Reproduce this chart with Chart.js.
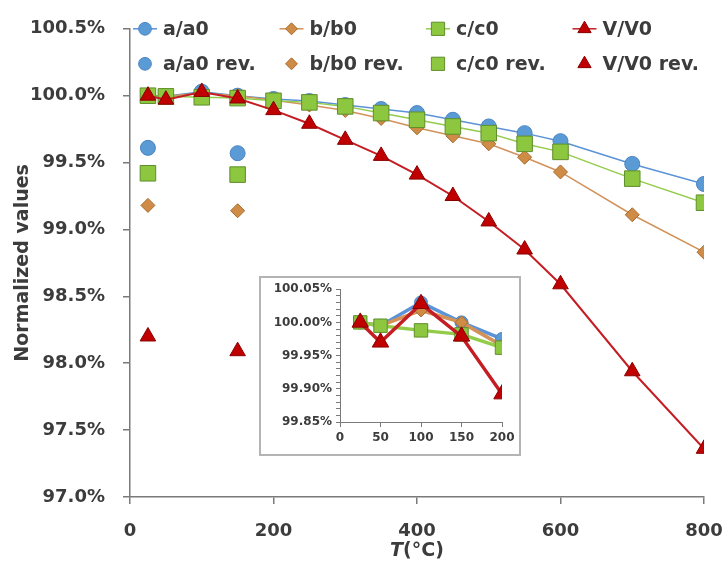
<!DOCTYPE html>
<html>
<head>
<meta charset="utf-8">
<script src="https://cdn.jsdelivr.net/npm/chart.js@4.4.1/dist/chart.umd.min.js"></script>
<style>
  html, body { margin: 0; padding: 0; background: #ffffff; }
  #wrap { position: relative; width: 726px; height: 569px; }
  #main { position: absolute; left: 0; top: 0; }
  #insetBox { position: absolute; left: 259px; top: 276px; width: 258px; height: 176px;
              border: 2px solid #b4b4b4; background: #ffffff; }
  #inset { display: block; }
</style>
</head>
<body>
<div id="wrap">
  <canvas id="main" width="726" height="569"></canvas>
  <div id="insetBox"><canvas id="inset" width="258" height="176"></canvas></div>
</div>
<script>
// ---------------- data ----------------
const temps = [25, 50, 100, 150, 200, 250, 300, 350, 400, 450, 500, 550, 600, 700, 800];
const aNorm = [100.00, 99.995, 100.03, 100.00, 99.975, 99.96, 99.93, 99.90, 99.87, 99.82, 99.77, 99.72, 99.66, 99.49, 99.34];
const bNorm = [100.00, 99.995, 100.018, 100.00, 99.965, 99.93, 99.89, 99.83, 99.76, 99.70, 99.64, 99.54, 99.43, 99.11, 98.83];
const cNorm = [100.00, 99.995, 99.988, 99.982, 99.962, 99.95, 99.92, 99.87, 99.82, 99.77, 99.72, 99.64, 99.58, 99.38, 99.20];
const vNorm = [100.00, 99.97, 100.028, 99.979, 99.892, 99.79, 99.67, 99.55, 99.41, 99.25, 99.06, 98.85, 98.59, 97.94, 97.36];

const revTemps = [25, 150];
const aRev = [99.61, 99.57];
const bRev = [99.18, 99.14];
const cRev = [99.42, 99.41];
const vRev = [98.20, 98.09];

const seriesNames = ['a/a0', 'b/b0', 'c/c0', 'V/V0'];
const revNames = ['a/a0 rev.', 'b/b0 rev.', 'c/c0 rev.', 'V/V0 rev.'];

const mainXTicks = [0, 200, 400, 600, 800];
const mainYRange = [97.0, 100.5];
const insetXMax = 200;
const insetYRange = [99.85, 100.05];

// ---------------- styles ----------------
const FONT = 'DejaVu Sans';
const TEXT = '#3c3c3c';
const styles = [
  { line: '#5b93d6', fill: '#5b9bd5', border: '#4a84c4', style: 'circle', r: 7.5, ir: 6.5 },
  { line: '#d2925a', fill: '#cf8c46', border: '#a86a2c', style: 'rectRot', r: 7, ir: 6.5 },
  { line: '#92cc4a', fill: '#8dc63f', border: '#5f8f2c', style: 'rect', r: 11, ir: 9.5 },
  { line: '#c41e24', fill: '#c00000', border: '#8a0000', style: 'triangle', r: 9, ir: 9.5 }
];

const pts = (xs, ys) => xs.map((x, i) => ({ x: x, y: ys[i] }));
const mainSeries = [aNorm, bNorm, cNorm, vNorm];
const revSeries = [aRev, bRev, cRev, vRev];

const mainDatasets = [];
mainSeries.forEach((s, k) => {
  const st = styles[k];
  mainDatasets.push({
    label: seriesNames[k], data: pts(temps, s), showLine: true,
    borderColor: st.line, borderWidth: k === 3 ? 2 : 1.5,
    pointStyle: st.style, pointRadius: st.r,
    pointBackgroundColor: st.fill, pointBorderColor: st.border, pointBorderWidth: 1,
    order: 10 - k
  });
});
revSeries.forEach((s, k) => {
  const st = styles[k];
  mainDatasets.push({
    label: revNames[k], data: pts(revTemps, s), showLine: false,
    borderColor: st.line,
    pointStyle: st.style, pointRadius: st.r,
    pointBackgroundColor: st.fill, pointBorderColor: st.border, pointBorderWidth: 1,
    order: 20 - k
  });
});

// custom legend laid over the plot area (2 rows x 4 columns)
const legendPlugin = {
  id: 'gridLegend',
  afterDraw(chart) {
    const ctx = chart.ctx, ca = chart.chartArea;
    ctx.save();
    ctx.font = 'bold 19px "' + FONT + '"';
    ctx.textBaseline = 'middle';
    ctx.fillStyle = TEXT;
    for (let row = 0; row < 2; row++) {
      for (let k = 0; k < 4; k++) {
        const st = styles[k];
        const cx = ca.left + 15 + k * 146.5;
        const cy = ca.top + row * 35;
        if (row === 0) {
          ctx.strokeStyle = st.line; ctx.lineWidth = 1.5;
          ctx.beginPath(); ctx.moveTo(cx - 12, cy); ctx.lineTo(cx + 12, cy); ctx.stroke();
        }
        ctx.fillStyle = st.fill; ctx.strokeStyle = st.border; ctx.lineWidth = 1;
        Chart.helpers.drawPoint(ctx, { pointStyle: st.style, radius: st.r * 0.85, rotation: 0, borderWidth: 1 }, cx, cy);
        ctx.fillStyle = TEXT;
        ctx.fillText(row === 0 ? seriesNames[k] : revNames[k], cx + 18, cy + 1);
      }
    }
    // x-axis title with italic T
    const mid = (ca.left + ca.right) / 2;
    const y = 551;
    ctx.font = 'italic bold 19px "' + FONT + '"';
    const wT = ctx.measureText('T').width;
    ctx.font = 'bold 19px "' + FONT + '"';
    const wR = ctx.measureText('(°C)').width;
    const x0 = mid - (wT + wR) / 2;
    ctx.textAlign = 'left';
    ctx.font = 'italic bold 19px "' + FONT + '"';
    ctx.fillText('T', x0, y);
    ctx.font = 'bold 19px "' + FONT + '"';
    ctx.fillText('(°C)', x0 + wT, y);
    ctx.restore();
  }
};

Chart.defaults.font.family = FONT;
Chart.defaults.font.weight = 'bold';
Chart.defaults.color = TEXT;

new Chart(document.getElementById('main'), {
  type: 'scatter',
  data: { datasets: mainDatasets },
  options: {
    responsive: false, animation: false, events: [],
    layout: { padding: { left: 0, top: 28, right: 22, bottom: 0 } },
    plugins: { legend: { display: false }, tooltip: { enabled: false } },
    scales: {
      x: {
        type: 'linear', min: mainXTicks[0], max: mainXTicks[mainXTicks.length - 1],
        afterBuildTicks: s => { s.ticks = mainXTicks.map(v => ({ value: v })); },
        afterFit: s => { s.height = 72; s.paddingLeft = 0; s.paddingRight = 0; },
        grid: { drawOnChartArea: false, drawTicks: true, tickLength: 7, color: '#7a7a7a', lineWidth: 1.5 },
        border: { display: true, color: '#7a7a7a', width: 1.5 },
        ticks: { font: { size: 18, weight: 'bold' }, color: TEXT, padding: 17, maxRotation: 0 }
      },
      y: {
        min: mainYRange[0], max: mainYRange[1],
        afterFit: s => { s.width = 130; },
        grid: { drawOnChartArea: false, drawTicks: true, tickLength: 7, color: '#7a7a7a', lineWidth: 1.5 },
        border: { display: true, color: '#7a7a7a', width: 1.5 },
        ticks: { stepSize: 0.5, font: { size: 18, weight: 'bold' }, color: TEXT, padding: 18,
                 callback: v => v.toFixed(1) + '%' },
        title: { display: true, text: 'Normalized values', font: { size: 19, weight: 'bold' }, color: TEXT,
                 padding: { top: 12, bottom: 0 } }
      }
    }
  },
  plugins: [legendPlugin]
});

// ---------------- inset ----------------
const nIn = temps.filter(t => t <= insetXMax).length;
const insetDatasets = mainSeries.map((s, k) => {
  const st = styles[k];
  return {
    label: seriesNames[k], data: pts(temps.slice(0, nIn), s.slice(0, nIn)), showLine: true,
    borderColor: st.line, borderWidth: 3.5,
    pointStyle: st.style, pointRadius: st.ir,
    pointBackgroundColor: st.fill, pointBorderColor: st.border, pointBorderWidth: 1,
    order: 10 - k
  };
});

new Chart(document.getElementById('inset'), {
  type: 'scatter',
  data: { datasets: insetDatasets },
  options: {
    responsive: false, animation: false, events: [],
    layout: { padding: { left: 0, top: 11, right: 17, bottom: 0 } },
    plugins: { legend: { display: false }, tooltip: { enabled: false } },
    scales: {
      x: {
        type: 'linear', min: 0, max: insetXMax,
        afterFit: s => { s.height = 32; s.paddingLeft = 0; s.paddingRight = 0; },
        grid: { drawOnChartArea: false, drawTicks: true, tickLength: 5, color: '#7a7a7a', lineWidth: 1 },
        border: { display: true, color: '#7a7a7a', width: 1 },
        ticks: { stepSize: 50, font: { size: 12, weight: 'bold' }, color: TEXT, padding: 4, maxRotation: 0 }
      },
      y: {
        min: insetYRange[0], max: insetYRange[1],
        afterFit: s => { s.width = 79; },
        grid: { drawOnChartArea: false, drawTicks: true, tickLength: 4, color: '#7a7a7a', lineWidth: 1 },
        border: { display: true, color: '#7a7a7a', width: 1 },
        ticks: { stepSize: 0.01, autoSkip: false, font: { size: 12, weight: 'bold' }, color: TEXT, padding: 4,
                 callback: v => (Math.abs(v * 20 - Math.round(v * 20)) < 1e-6 ? v.toFixed(2) + '%' : '') }
      }
    }
  }
});
</script>
</body>
</html>
